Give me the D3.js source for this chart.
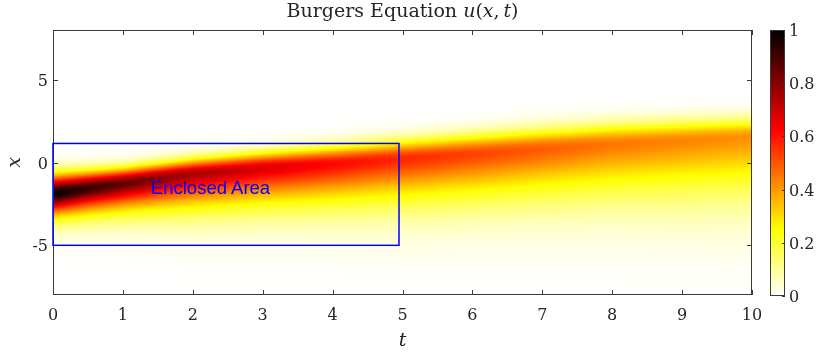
<!DOCTYPE html>
<html>
<head>
<meta charset="utf-8">
<script src="https://cdn.jsdelivr.net/npm/d3@7"></script>
<style>
  body { margin: 0; background: #fff; }
  #wrap { position: relative; width: 816px; height: 356px; }
  #wrap canvas, #wrap svg { position: absolute; left: 0; top: 0; }
  text { font-family: "DejaVu Serif", "Liberation Serif", serif; fill: #262626; }
</style>
</head>
<body>
<div id="wrap">
  <canvas id="field" width="816" height="356"></canvas>
  <svg id="chart" width="816" height="356"></svg>
</div>
<script>
// Wave profile of u(x,t) sampled along t: crest height, crest location,
// spread ahead of the crest (steep front) and behind it (long tail).
const timeSamples  = [0, 0.5, 1, 1.5, 2, 3, 4, 5, 6, 7, 8, 9, 10];
const crestValue   = [1.0, 0.92, 0.86, 0.8, 0.75, 0.68, 0.62, 0.57, 0.53, 0.49, 0.45, 0.43, 0.41];
const crestX       = [-1.95, -1.6, -1.3, -1.0, -0.72, -0.36, -0.1, 0.2, 0.48, 0.78, 1.08, 1.3, 1.5];
const frontSpread  = [1.15, 1.0, 0.9, 0.88, 0.88, 0.92, 1.0, 1.08, 1.14, 1.18, 1.18, 1.14, 1.1];
const tailSpread   = [1.2, 1.35, 1.5, 1.7, 1.9, 2.1, 2.3, 2.5, 2.65, 2.8, 3.0, 3.2, 3.35];
const tailShape    = 1.5;   // exponent of the trailing side

const tTicks  = [0, 1, 2, 3, 4, 5, 6, 7, 8, 9, 10];
const xTicks  = [-5, 0, 5];
const cbTicks = [0, 0.2, 0.4, 0.6, 0.8, 1];

const regionT = [0, 4.95];
const regionX = [-5, 1.15];
const regionLabel = "Enclosed Area";
const regionLabelAt = [1.4, -1.6];

const plot = { left: 53, right: 752, top: 30, bottom: 295 };
const cbar = { left: 770, right: 785, top: 30, bottom: 296 };

const t = d3.scaleLinear().domain([0, 10]).range([plot.left, plot.right]);
const x = d3.scaleLinear().domain([-8, 8]).range([plot.bottom, plot.top]);

// reversed "hot" colormap: white -> yellow -> red -> black
const color = d3.scaleLinear()
  .domain([0, 0.25, 0.625, 1])
  .range(["#ffffff", "#ffff00", "#ff0000", "#000000"])
  .interpolate(d3.interpolateRgb)
  .clamp(true);

const along = arr => d3.scaleLinear().domain(timeSamples).range(arr).clamp(true);
const crestV = along(crestValue), crestP = along(crestX),
      frontS = along(frontSpread), tailS = along(tailSpread);

function u(tv, xv) {
  const c = crestP(tv);
  if (xv > c) {
    const d = (xv - c) / frontS(tv);
    return crestV(tv) * Math.exp(-d * d);
  }
  const d = (c - xv) / tailS(tv);
  return crestV(tv) * Math.exp(-Math.pow(d, tailShape));
}

// field image, one cell per screen pixel
const ctx = document.getElementById("field").getContext("2d");
const pw = plot.right - plot.left, ph = plot.bottom - plot.top;
const img = ctx.createImageData(pw, ph);
for (let j = 0; j < ph; j++) {
  const xv = x.invert(plot.top + j + 0.5);
  for (let i = 0; i < pw; i++) {
    const tv = t.invert(plot.left + i + 0.5);
    const c = d3.rgb(color(u(tv, xv)));
    const k = (j * pw + i) * 4;
    img.data[k] = c.r; img.data[k + 1] = c.g; img.data[k + 2] = c.b; img.data[k + 3] = 255;
  }
}
ctx.putImageData(img, plot.left, plot.top);

// colorbar gradient
const cb = d3.scaleLinear().domain([0, 1]).range([cbar.bottom, cbar.top]);
const cw = cbar.right - cbar.left, chh = cbar.bottom - cbar.top;
const cbImg = ctx.createImageData(cw, chh);
for (let j = 0; j < chh; j++) {
  const c = d3.rgb(color(cb.invert(cbar.top + j + 0.5)));
  for (let i = 0; i < cw; i++) {
    const k = (j * cw + i) * 4;
    cbImg.data[k] = c.r; cbImg.data[k + 1] = c.g; cbImg.data[k + 2] = c.b; cbImg.data[k + 3] = 255;
  }
}
ctx.putImageData(cbImg, cbar.left, cbar.top);

const svg = d3.select("#chart");
const axisColor = "#3a3a3a";
const tickLen = 5;
const tickFont = 16;

// frame
svg.append("rect")
  .attr("x", plot.left + 0.5).attr("y", plot.top + 0.5)
  .attr("width", pw - 1).attr("height", ph - 1)
  .attr("fill", "none").attr("stroke", axisColor).attr("stroke-width", 1);

// t ticks (bottom and top, inward)
const tg = svg.append("g");
tTicks.forEach(v => {
  const px = Math.round(t(v)) + 0.5;
  tg.append("line").attr("x1", px).attr("x2", px)
    .attr("y1", plot.bottom).attr("y2", plot.bottom - tickLen).attr("stroke", axisColor);
  tg.append("line").attr("x1", px).attr("x2", px)
    .attr("y1", plot.top).attr("y2", plot.top + tickLen).attr("stroke", axisColor);
  tg.append("text").attr("x", t(v)).attr("y", plot.bottom + 25)
    .attr("text-anchor", "middle").attr("font-size", tickFont).text(v);
});

// x ticks (left and right, inward)
const xg = svg.append("g");
xTicks.forEach(v => {
  const py = Math.round(x(v)) + 0.5;
  xg.append("line").attr("x1", plot.left).attr("x2", plot.left + tickLen)
    .attr("y1", py).attr("y2", py).attr("stroke", axisColor);
  xg.append("line").attr("x1", plot.right).attr("x2", plot.right - tickLen)
    .attr("y1", py).attr("y2", py).attr("stroke", axisColor);
  xg.append("text").attr("x", plot.left - 5).attr("y", x(v) + 6)
    .attr("text-anchor", "end").attr("font-size", tickFont).text(v);
});

// axis titles
svg.append("text").attr("x", (plot.left + plot.right) / 2).attr("y", 346)
  .attr("text-anchor", "middle").attr("font-size", 19).attr("font-style", "italic").text("t");
svg.append("text").attr("transform", `translate(20,${(plot.top + plot.bottom) / 2}) rotate(-90)`)
  .attr("text-anchor", "middle").attr("font-size", 19).attr("font-style", "italic").text("x");

// title
const title = svg.append("text").attr("x", (plot.left + plot.right) / 2).attr("y", 17)
  .attr("text-anchor", "middle").attr("font-size", 19);
title.append("tspan").text("Burgers Equation ");
title.append("tspan").attr("font-style", "italic").text("u");
title.append("tspan").text("(");
title.append("tspan").attr("font-style", "italic").text("x");
title.append("tspan").text(",\u2009");
title.append("tspan").attr("font-style", "italic").text("t");
title.append("tspan").text(")");

// marked region
svg.append("rect")
  .attr("x", t(regionT[0])).attr("y", x(regionX[1]))
  .attr("width", t(regionT[1]) - t(regionT[0]))
  .attr("height", x(regionX[0]) - x(regionX[1]))
  .attr("fill", "none").attr("stroke", "#0000ff").attr("stroke-width", 1.5);
svg.append("text").attr("x", t(regionLabelAt[0])).attr("y", x(regionLabelAt[1]))
  .attr("dominant-baseline", "middle")
  .style("font-family", "'Liberation Sans', Arial, sans-serif")
  .style("fill", "#0000ff").attr("font-size", 18.5).text(regionLabel);

// colorbar frame, ticks, labels
svg.append("rect")
  .attr("x", cbar.left + 0.5).attr("y", cbar.top + 0.5)
  .attr("width", cw - 1).attr("height", chh - 1)
  .attr("fill", "none").attr("stroke", axisColor);
const cg = svg.append("g");
cbTicks.forEach(v => {
  const py = Math.round(cb(v)) + 0.5;
  cg.append("line").attr("x1", cbar.right).attr("x2", cbar.right - 3)
    .attr("y1", py).attr("y2", py).attr("stroke", axisColor);
  cg.append("text").attr("x", cbar.right + 4).attr("y", cb(v) + 6)
    .attr("font-size", tickFont).text(v);
});
</script>
</body>
</html>
